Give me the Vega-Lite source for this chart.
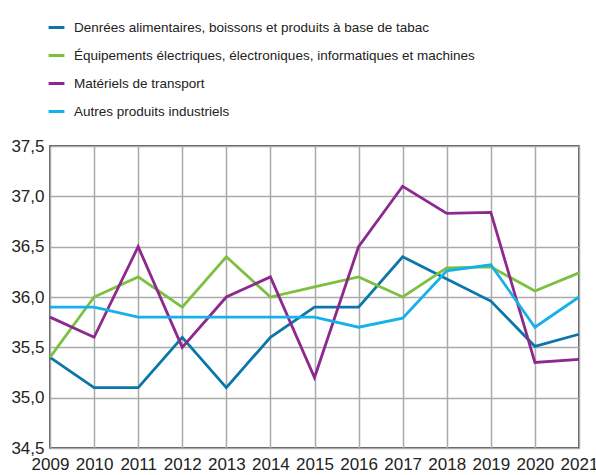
{
  "$schema": "https://vega.github.io/schema/vega-lite/v6.json",
  "width": 529,
  "height": 302,
  "autosize": {"type": "none"},
  "padding": {"left": 50, "top": 146, "right": 17, "bottom": 27},
  "background": "white",
  "data": {
    "values": [
      {"annee": 2009, "serie": "Denrées alimentaires, boissons et produits à base de tabac", "valeur": 35.4},
      {"annee": 2010, "serie": "Denrées alimentaires, boissons et produits à base de tabac", "valeur": 35.1},
      {"annee": 2011, "serie": "Denrées alimentaires, boissons et produits à base de tabac", "valeur": 35.1},
      {"annee": 2012, "serie": "Denrées alimentaires, boissons et produits à base de tabac", "valeur": 35.6},
      {"annee": 2013, "serie": "Denrées alimentaires, boissons et produits à base de tabac", "valeur": 35.1},
      {"annee": 2014, "serie": "Denrées alimentaires, boissons et produits à base de tabac", "valeur": 35.6},
      {"annee": 2015, "serie": "Denrées alimentaires, boissons et produits à base de tabac", "valeur": 35.9},
      {"annee": 2016, "serie": "Denrées alimentaires, boissons et produits à base de tabac", "valeur": 35.9},
      {"annee": 2017, "serie": "Denrées alimentaires, boissons et produits à base de tabac", "valeur": 36.4},
      {"annee": 2018, "serie": "Denrées alimentaires, boissons et produits à base de tabac", "valeur": 36.18},
      {"annee": 2019, "serie": "Denrées alimentaires, boissons et produits à base de tabac", "valeur": 35.96},
      {"annee": 2020, "serie": "Denrées alimentaires, boissons et produits à base de tabac", "valeur": 35.51},
      {"annee": 2021, "serie": "Denrées alimentaires, boissons et produits à base de tabac", "valeur": 35.63},
      {"annee": 2009, "serie": "Équipements électriques, électroniques, informatiques et machines", "valeur": 35.4},
      {"annee": 2010, "serie": "Équipements électriques, électroniques, informatiques et machines", "valeur": 36.0},
      {"annee": 2011, "serie": "Équipements électriques, électroniques, informatiques et machines", "valeur": 36.2},
      {"annee": 2012, "serie": "Équipements électriques, électroniques, informatiques et machines", "valeur": 35.9},
      {"annee": 2013, "serie": "Équipements électriques, électroniques, informatiques et machines", "valeur": 36.4},
      {"annee": 2014, "serie": "Équipements électriques, électroniques, informatiques et machines", "valeur": 36.0},
      {"annee": 2015, "serie": "Équipements électriques, électroniques, informatiques et machines", "valeur": 36.1},
      {"annee": 2016, "serie": "Équipements électriques, électroniques, informatiques et machines", "valeur": 36.2},
      {"annee": 2017, "serie": "Équipements électriques, électroniques, informatiques et machines", "valeur": 36.0},
      {"annee": 2018, "serie": "Équipements électriques, électroniques, informatiques et machines", "valeur": 36.29},
      {"annee": 2019, "serie": "Équipements électriques, électroniques, informatiques et machines", "valeur": 36.3},
      {"annee": 2020, "serie": "Équipements électriques, électroniques, informatiques et machines", "valeur": 36.06},
      {"annee": 2021, "serie": "Équipements électriques, électroniques, informatiques et machines", "valeur": 36.24},
      {"annee": 2009, "serie": "Matériels de transport", "valeur": 35.8},
      {"annee": 2010, "serie": "Matériels de transport", "valeur": 35.6},
      {"annee": 2011, "serie": "Matériels de transport", "valeur": 36.5},
      {"annee": 2012, "serie": "Matériels de transport", "valeur": 35.5},
      {"annee": 2013, "serie": "Matériels de transport", "valeur": 36.0},
      {"annee": 2014, "serie": "Matériels de transport", "valeur": 36.2},
      {"annee": 2015, "serie": "Matériels de transport", "valeur": 35.2},
      {"annee": 2016, "serie": "Matériels de transport", "valeur": 36.5},
      {"annee": 2017, "serie": "Matériels de transport", "valeur": 37.1},
      {"annee": 2018, "serie": "Matériels de transport", "valeur": 36.83},
      {"annee": 2019, "serie": "Matériels de transport", "valeur": 36.84},
      {"annee": 2020, "serie": "Matériels de transport", "valeur": 35.35},
      {"annee": 2021, "serie": "Matériels de transport", "valeur": 35.38},
      {"annee": 2009, "serie": "Autres produits industriels", "valeur": 35.9},
      {"annee": 2010, "serie": "Autres produits industriels", "valeur": 35.9},
      {"annee": 2011, "serie": "Autres produits industriels", "valeur": 35.8},
      {"annee": 2012, "serie": "Autres produits industriels", "valeur": 35.8},
      {"annee": 2013, "serie": "Autres produits industriels", "valeur": 35.8},
      {"annee": 2014, "serie": "Autres produits industriels", "valeur": 35.8},
      {"annee": 2015, "serie": "Autres produits industriels", "valeur": 35.8},
      {"annee": 2016, "serie": "Autres produits industriels", "valeur": 35.7},
      {"annee": 2017, "serie": "Autres produits industriels", "valeur": 35.79},
      {"annee": 2018, "serie": "Autres produits industriels", "valeur": 36.26},
      {"annee": 2019, "serie": "Autres produits industriels", "valeur": 36.32},
      {"annee": 2020, "serie": "Autres produits industriels", "valeur": 35.7},
      {"annee": 2021, "serie": "Autres produits industriels", "valeur": 36.0}
    ]
  },
  "mark": {"type": "line", "strokeWidth": 2.8, "clip": false},
  "encoding": {
    "x": {
      "field": "annee",
      "type": "quantitative",
      "scale": {"domain": [2009, 2021], "nice": false, "zero": false},
      "axis": {
        "title": null,
        "values": [2009, 2010, 2011, 2012, 2013, 2014, 2015, 2016, 2017, 2018, 2019, 2020, 2021],
        "format": "d",
        "labelFlush": false,
        "labelOverlap": false,
        "domain": false,
        "ticks": false,
        "labelPadding": 8,
        "labelFontSize": 17,
        "labelFont": "Liberation Sans",
        "labelColor": "#222222",
        "grid": true,
        "gridColor": "#aaaaaa",
        "gridWidth": 1.5
      }
    },
    "y": {
      "field": "valeur",
      "type": "quantitative",
      "scale": {"domain": [34.5, 37.5], "nice": false, "zero": false},
      "axis": {
        "title": null,
        "values": [34.5, 35, 35.5, 36, 36.5, 37, 37.5],
        "labelExpr": "replace(format(datum.value, '.1f'), '.', ',')",
        "domain": false,
        "ticks": false,
        "labelPadding": 6,
        "labelFontSize": 17,
        "labelFont": "Liberation Sans",
        "labelColor": "#222222",
        "labelFlush": false,
        "grid": true,
        "gridColor": "#aaaaaa",
        "gridWidth": 1.5
      }
    },
    "color": {
      "field": "serie",
      "type": "nominal",
      "sort": null,
      "scale": {
        "domain": [
          "Denrées alimentaires, boissons et produits à base de tabac",
          "Équipements électriques, électroniques, informatiques et machines",
          "Matériels de transport",
          "Autres produits industriels"
        ],
        "range": ["#0a77a8", "#7dbf3f", "#8c288e", "#14b1ea"]
      },
      "legend": {
        "title": null,
        "orient": "none",
        "legendX": -3,
        "legendY": -128,
        "symbolType": "stroke",
        "symbolSize": 250,
        "symbolStrokeWidth": 3,
        "labelFont": "Liberation Sans",
        "labelFontSize": 13.5,
        "labelColor": "#222222",
        "labelLimit": 600,
        "rowPadding": 12,
        "labelOffset": 8
      }
    }
  },
  "config": {
    "view": {"stroke": "#222222", "strokeWidth": 1.5}
  }
}
